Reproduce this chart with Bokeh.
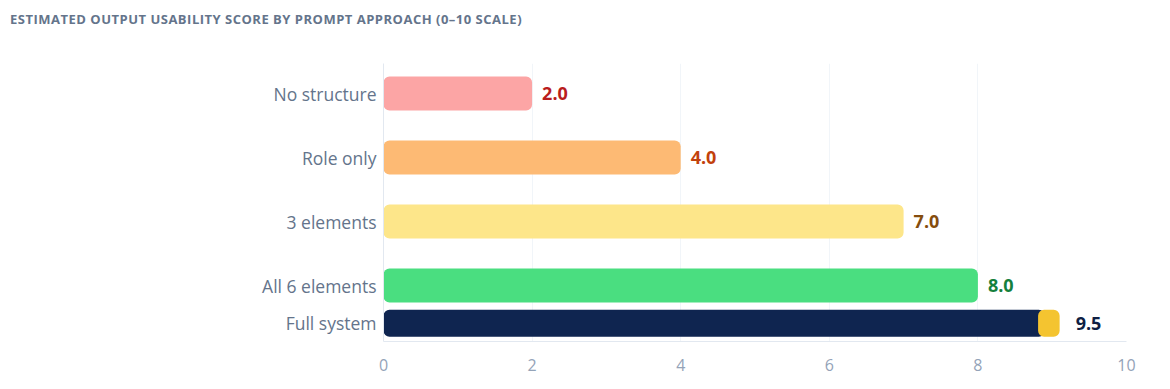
from bokeh.plotting import figure
from bokeh.models import (ColumnDataSource, Range1d, FixedTicker, Div)
from bokeh.layouts import column
from bokeh.core.properties import value
from bokeh.embed import file_html
from bokeh.resources import INLINE

# ---- data ----
categories = ["No structure", "Role only", "3 elements", "All 6 elements", "Full system"]
scores = [2.0, 4.0, 7.0, 8.0, 9.5]
bar_colors = ["#fca5a5", "#fdba74", "#fde68a", "#4ade80", "#0f2550"]
label_colors = ["#b91c1c", "#c2410c", "#854d0e", "#15803d", "#0f1f44"]
# drawn extent of the "Full system" bar (as seen in the picture)
full_bar_end = 8.9
full_accent = [8.81, 9.1]
accent_color = "#f4c430"
x_ticks = [0, 2, 4, 6, 8, 10]

# ---- layout constants ----
FULL_GAP = 0.59
y_pos = [float(i) for i in range(4)] + [3 + FULL_GAP]
heights = [0.53] * 4 + [0.42]
FONT = "Open Sans"

title = Div(
    text="ESTIMATED OUTPUT USABILITY SCORE BY PROMPT APPROACH (0–10 SCALE)",
    width=1168, height=34, margin=(0, 0, 0, 0),
    styles={"font-family": FONT, "font-size": "13px", "font-weight": "700",
            "letter-spacing": "0.5px", "color": "#64748b", "line-height": "18px",
            "padding-top": "10px", "padding-left": "10px", "white-space": "nowrap"},
)

p = figure(width=1168, height=354, output_backend="svg", toolbar_location=None,
           x_range=Range1d(0, 10), y_range=Range1d(3.875, -0.47),
           min_border_left=383, min_border_right=42, min_border_top=29,
           min_border_bottom=47, tools="")
p.outline_line_color = None
p.background_fill_color = "white"
p.border_fill_color = "white"
p.margin = (0, 0, 0, 0)

p.ygrid.visible = False
p.xgrid.grid_line_color = "#f1f5f9"
p.xgrid.ticker = FixedTicker(ticks=x_ticks)
p.xaxis.ticker = FixedTicker(ticks=x_ticks)
p.xaxis.axis_line_color = "#e2e8f0"
p.xaxis.major_tick_line_color = None
p.xaxis.minor_tick_line_color = None
p.xaxis.major_label_text_color = "#94a3b8"
p.xaxis.major_label_text_font = FONT
p.xaxis.major_label_text_font_size = "16px"
p.xaxis.major_label_standoff = 11

# category axis on the left (numeric positions labelled with the categories)
p.yaxis.ticker = FixedTicker(ticks=y_pos)
p.yaxis.major_label_overrides = {y: c for y, c in zip(y_pos, categories)}
p.yaxis.axis_line_color = "#e2e8f0"
p.yaxis.major_tick_line_color = None
p.yaxis.minor_tick_line_color = None
p.yaxis.major_label_text_color = "#64748b"
p.yaxis.major_label_text_font = FONT
p.yaxis.major_label_text_font_size = "17.5px"
p.yaxis.major_label_standoff = 1

main = ColumnDataSource(dict(y=y_pos[:4], right=scores[:4], h=heights[:4],
                             color=bar_colors[:4]))
p.hbar(y="y", left=0, right="right", height="h", fill_color="color",
       line_color=None, border_radius=6, source=main)

# full system bar
full = ColumnDataSource(dict(y=[y_pos[4]], right=[full_bar_end], h=[heights[4]],
                             color=[bar_colors[4]]))
p.hbar(y="y", left=0, right="right", height="h", fill_color="color",
       line_color=None, border_radius=6, source=full)
acc = ColumnDataSource(dict(y=[y_pos[4]], left=[full_accent[0]], right=[full_accent[1]],
                            h=[heights[4]]))
p.hbar(y="y", left="left", right="right", height="h", fill_color=accent_color,
       line_color=None, border_radius=6, source=acc)

# value labels
lab = ColumnDataSource(dict(x=scores[:4], y=y_pos[:4],
                            t=[f"{s:.1f}" for s in scores[:4]], c=label_colors[:4]))
p.text(x="x", y="y", text="t", text_color="c", x_offset=10, text_baseline="middle",
       text_align="left", text_font=value(FONT), text_font_size="18px",
       text_font_style="bold", source=lab)
lab2 = ColumnDataSource(dict(x=[full_accent[1]], y=[y_pos[4]],
                             t=[f"{scores[4]:.1f}"], c=[label_colors[4]]))
p.text(x="x", y="y", text="t", text_color="c", x_offset=16, text_baseline="middle",
       text_align="left", text_font=value(FONT), text_font_size="18px",
       text_font_style="bold", source=lab2)

layout = column(title, p, margin=(0, 0, 0, 0), spacing=0)
open("out.html", "w").write(file_html(layout, INLINE))
